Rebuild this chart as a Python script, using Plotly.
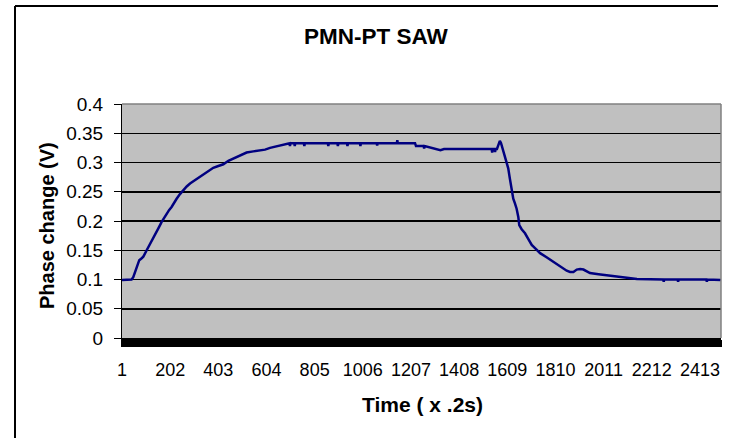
import plotly.graph_objects as go

# ---- data ----
time_idx = [1, 20, 34, 41, 48, 55, 64, 73, 82, 90, 104, 115, 125, 136, 146, 156, 166, 177,
            187, 198, 208, 218, 229, 243, 257, 271, 285, 299, 313, 330, 347, 365, 382, 403,
            424, 445, 465, 493, 521, 549, 577, 598, 619, 646, 674, 690, 700, 702, 704, 720,
            722, 724, 760, 762, 764, 860, 862, 864, 900, 902, 904, 940, 942, 944, 994, 996,
            998, 1064, 1066, 1068, 1148, 1150, 1152, 1224, 1228, 1260, 1262, 1264, 1316,
            1330, 1345, 1400, 1544, 1546, 1548, 1556, 1558, 1560, 1566, 1572, 1578, 1583,
            1586, 1592, 1599, 1607, 1613, 1620, 1627, 1634, 1641, 1648, 1655, 1659, 1669,
            1683, 1697, 1711, 1729, 1746, 1773, 1801, 1822, 1843, 1857, 1871, 1885, 1899,
            1913, 1927, 1954, 1990, 2024, 2052, 2080, 2110, 2150, 2205, 2260, 2262, 2264,
            2320, 2322, 2324, 2400, 2440, 2442, 2444, 2500]
phase_v = [0.099, 0.099, 0.1, 0.1, 0.104, 0.113, 0.124, 0.133, 0.136, 0.139, 0.15, 0.158,
           0.167, 0.174, 0.181, 0.19, 0.198, 0.206, 0.213, 0.219, 0.224, 0.231, 0.238, 0.246,
           0.253, 0.259, 0.264, 0.268, 0.271, 0.276, 0.281, 0.286, 0.291, 0.294, 0.297,
           0.303, 0.307, 0.312, 0.317, 0.319, 0.32, 0.322, 0.325, 0.328, 0.331, 0.333, 0.333,
           0.328, 0.333, 0.333, 0.328, 0.333, 0.333, 0.328, 0.333, 0.333, 0.328, 0.333,
           0.333, 0.328, 0.333, 0.333, 0.328, 0.333, 0.333, 0.328, 0.333, 0.333, 0.329,
           0.333, 0.333, 0.338, 0.333, 0.333, 0.328, 0.328, 0.324, 0.328, 0.323, 0.321,
           0.323, 0.323, 0.323, 0.317, 0.323, 0.323, 0.318, 0.323, 0.323, 0.33, 0.337,
           0.333, 0.329, 0.318, 0.309, 0.301, 0.29, 0.272, 0.253, 0.238, 0.23, 0.221, 0.207,
           0.193, 0.186, 0.179, 0.169, 0.159, 0.152, 0.145, 0.138, 0.13, 0.125, 0.118, 0.115,
           0.113, 0.113, 0.117, 0.118, 0.117, 0.111, 0.109, 0.1075, 0.106, 0.104, 0.103,
           0.101, 0.1005, 0.1, 0.096, 0.1, 0.1, 0.096, 0.1, 0.1, 0.1, 0.096, 0.1, 0.099]

tick_labels = ["1", "202", "403", "604", "805", "1006", "1207", "1408",
               "1609", "1810", "2011", "2212", "2413"]
y_ticks = [0, 0.05, 0.1, 0.15, 0.2, 0.25, 0.3, 0.35, 0.4]
y_tick_labels = ["0", "0.05", "0.1", "0.15", "0.2", "0.25", "0.3", "0.35", "0.4"]

title_text = "PMN-PT SAW"
x_title = "Time ( x .2s)"
y_title = "Phase change (V)"

FONT = "Liberation Sans, Arial, sans-serif"

fig = go.Figure()
fig.add_trace(go.Scatter(
    x=time_idx, y=phase_v, mode="lines",
    line=dict(color="#000080", width=2.5),
    showlegend=False, hoverinfo="skip",
))

L, R, T, B = 122, 9, 104, 100
W, H = 730, 438
pw = W - L - R
ph = H - T - B

def px_x(px):
    return (px - L) / pw

def px_y(py):
    return (H - B - py) / ph

fig.update_layout(
    width=W, height=H,
    margin=dict(l=L, r=R, t=T, b=B, pad=0),
    paper_bgcolor="white",
    plot_bgcolor="#C0C0C0",
    font=dict(family=FONT, size=17, color="black"),
    xaxis=dict(
        range=[1, 2501],
        tickmode="array",
        tickvals=[int(t) for t in tick_labels],
        ticktext=tick_labels,
        ticks="outside", ticklen=7, tickwidth=1.5, tickcolor="black",
        minor=dict(ticks="outside", tickmode="linear", tick0=1, dtick=4,
                   ticklen=7, tickwidth=1.5, tickcolor="black", showgrid=False),
        showline=True, linecolor="black", linewidth=2,
        showgrid=False, zeroline=False,
        ticklabelstandoff=7,
        tickfont=dict(family=FONT, size=18),
    ),
    yaxis=dict(
        range=[0, 0.4],
        tickmode="array",
        tickvals=y_ticks,
        ticktext=y_tick_labels,
        ticks="outside", ticklen=7, tickwidth=1, tickcolor="black",
        showline=True, linecolor="black", linewidth=1,
        showgrid=True, gridcolor="black", gridwidth=1.5,
        zeroline=False,
        ticklabelstandoff=7,
        tickfont=dict(family=FONT, size=19),
    ),
    shapes=[
        # plot-area border (top / right) in grey
        dict(type="line", xref="paper", yref="paper", x0=0, x1=1, y0=1, y1=1,
             line=dict(color="#808080", width=1.5), layer="above"),
        dict(type="line", xref="paper", yref="paper", x0=1, x1=1, y0=0, y1=1,
             line=dict(color="#808080", width=1.5), layer="above"),
        # outer frame lines
        dict(type="line", xref="paper", yref="paper", x0=px_x(15), x1=px_x(718),
             y0=px_y(6), y1=px_y(6), line=dict(color="black", width=2)),
        dict(type="line", xref="paper", yref="paper", x0=px_x(15), x1=px_x(15),
             y0=px_y(6), y1=px_y(440), line=dict(color="black", width=2)),
    ],
    annotations=[
        dict(text=f"<b>{title_text}</b>", xref="paper", yref="paper",
             x=px_x(376), y=px_y(37), xanchor="center", yanchor="middle",
             showarrow=False, font=dict(family=FONT, size=22.5, color="black")),
        dict(text=f"<b>{x_title}</b>", xref="paper", yref="paper",
             x=px_x(422), y=px_y(405), xanchor="center", yanchor="middle",
             showarrow=False, font=dict(family=FONT, size=21, color="black")),
        dict(text=f"<b>{y_title}</b>", xref="paper", yref="paper",
             x=px_x(47), y=px_y(226), xanchor="center", yanchor="middle",
             textangle=-90, showarrow=False,
             font=dict(family=FONT, size=20, color="black")),
    ],
)

fig.write_html(
    "out.html",
    config={"displayModeBar": False, "staticPlot": True},
    post_script="document.body.style.margin='0';document.body.style.overflow='hidden';",
)
